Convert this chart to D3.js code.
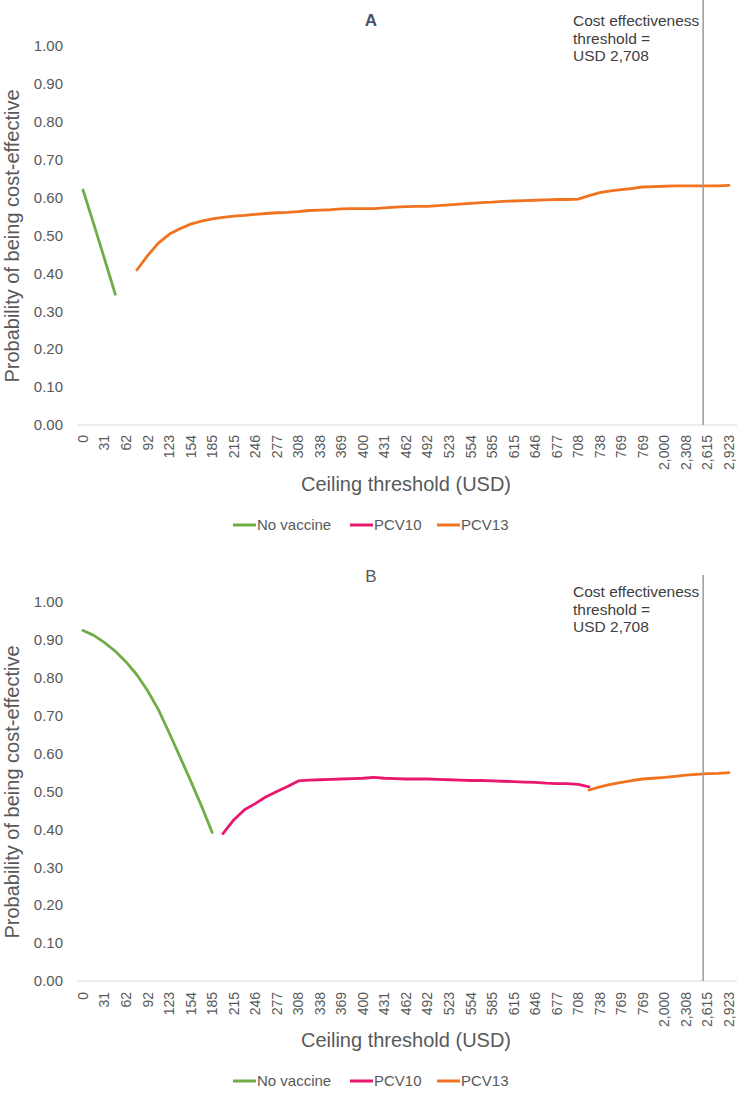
<!DOCTYPE html>
<html><head><meta charset="utf-8">
<script src="https://cdn.jsdelivr.net/npm/d3@7"></script>
<style>
body{margin:0;background:#fff}
svg{display:block}
text{font-family:"Liberation Sans",Arial,sans-serif}
</style>
</head><body>
<svg id="chart" width="742" height="1096"></svg>
<script>
// ---------- DATA ----------
// 61 categories (ceiling threshold steps); every second one is labelled
const categoryCount = 61;
const xTickLabels = ["0","31","62","92","123","154","185","215","246","277","308","338","369","400","431","462","492","523","554","585","615","646","677","708","738","769","769","2,000","2,308","2,615","2,923"];
const yTickValues = [0,0.1,0.2,0.3,0.4,0.5,0.6,0.7,0.8,0.9,1.0];
const seriesNames = ["No vaccine","PCV10","PCV13"];
const seriesColors = ["#70ad47","#e8176f","#f0741f"];
const thresholdCategory = 57.6;   // USD 2,708 position on the category axis
const thresholdText = ["Cost effectiveness","threshold =","USD 2,708"];

// Panel A (start = first category index of each series)
const noVaccineA_start = 0;
const noVaccineA = [0.620,0.530,0.438,0.345];
const pcv10A_start = 4;
const pcv10A = [];
const pcv13A_start = 5;
const pcv13A = [0.409,0.447,0.480,0.503,0.518,0.530,0.538,0.544,0.548,0.551,0.553,0.556,0.558,0.560,0.561,0.563,0.566,0.567,0.568,0.570,0.571,0.571,0.571,0.573,0.575,
  0.576,0.577,0.577,0.579,0.581,0.583,0.585,0.587,0.588,0.590,0.591,0.592,0.593,0.594,0.595,0.595,0.596,0.605,0.613,0.618,0.621,0.624,0.628,0.629,0.630,0.631,0.631,0.631,0.631,0.631,0.632];

// Panel B
const noVaccineB_start = 0;
const noVaccineB = [0.925,0.912,0.893,0.870,0.842,0.808,0.766,0.716,0.655,0.592,0.528,0.462,0.392];
const pcv10B_start = 13;
const pcv10B = [0.389,0.425,0.452,0.468,0.486,0.500,0.513,0.528,0.530,0.531,0.532,0.533,0.534,0.535,0.537,0.535,0.534,0.533,0.533,0.533,0.532,0.531,0.530,0.529,0.529,0.528,0.527,0.526,0.525,0.524,0.522,0.521,0.521,0.519,0.512];
const pcv13B_start = 47;
const pcv13B = [0.504,0.512,0.519,0.524,0.529,0.533,0.535,0.537,0.540,0.543,0.545,0.547,0.548,0.550];

// ---------- DRAW ----------
const svg = d3.select("#chart");
const grey = "#595959";
const x = d3.scaleLinear().domain([0, categoryCount - 1]).range([83, 729]);

const panels = [
  {title:"A", bold:true, titleColor:"#44546a", titleY:26, top:46, bottom:425, labelTop:435, axisTitleY:491, legendY:525, lineTop:0, annoY:26, yTitleCenter:236,
   series:[[noVaccineA_start,noVaccineA],[pcv10A_start,pcv10A],[pcv13A_start,pcv13A]]},
  {title:"B", bold:false, titleColor:grey, titleY:582, top:602, bottom:981, labelTop:992, axisTitleY:1047, legendY:1081, lineTop:575, annoY:597, yTitleCenter:792,
   series:[[noVaccineB_start,noVaccineB],[pcv10B_start,pcv10B],[pcv13B_start,pcv13B]]}
];

panels.forEach(p => {
  const g = svg.append("g");
  const y = d3.scaleLinear().domain([0,1]).range([p.bottom, p.top]);

  // title
  g.append("text").attr("x", 371).attr("y", p.titleY).attr("text-anchor","middle")
    .attr("font-size", 17).attr("font-weight", p.bold ? "bold" : "normal").attr("fill", p.titleColor).text(p.title);

  // baseline
  g.append("line").attr("x1", 77).attr("x2", 737).attr("y1", y(0)).attr("y2", y(0))
    .attr("stroke", "#d9d9d9").attr("stroke-width", 1);

  // y tick labels
  g.selectAll(".yt").data(yTickValues).enter().append("text")
    .attr("x", 63).attr("y", d => y(d)).attr("dy","0.35em").attr("text-anchor","end")
    .attr("font-size", 15).attr("fill", grey).text(d => d3.format(".2f")(d));

  // y title
  g.append("text").attr("transform", `translate(19,${p.yTitleCenter}) rotate(-90)`)
    .attr("text-anchor","middle").attr("font-size", 20).attr("fill", grey)
    .text("Probability of being cost-effective");

  // x tick labels (every second category)
  g.selectAll(".xt").data(xTickLabels).enter().append("text")
    .attr("transform", (d,i) => `translate(${x(i*2)},${p.labelTop}) rotate(-90)`)
    .attr("text-anchor","end").attr("dy","0.35em")
    .attr("font-size", 14).attr("fill", grey).text(d => d);

  // x title
  g.append("text").attr("x", 406).attr("y", p.axisTitleY).attr("text-anchor","middle")
    .attr("font-size", 20).attr("fill", grey).text("Ceiling threshold (USD)");

  // series lines
  const line = d3.line().x(d => x(d[0])).y(d => y(d[1]));
  p.series.forEach(([start, vals], si) => {
    const pts = vals.map((v,i) => [start + i, v]);
    if (pts.length < 2) return;
    g.append("path").attr("d", line(pts)).attr("fill","none")
      .attr("stroke", seriesColors[si]).attr("stroke-width", 2.8)
      .attr("stroke-linejoin","round").attr("stroke-linecap","round");
  });

  // threshold line
  g.append("line").attr("x1", x(thresholdCategory)).attr("x2", x(thresholdCategory))
    .attr("y1", p.lineTop).attr("y2", y(0)).attr("stroke","#9a9a9a").attr("stroke-width",1.5);

  // annotation
  thresholdText.forEach((t,i) => {
    g.append("text").attr("x", 573).attr("y", p.annoY + i*17.5)
      .attr("font-size", 15.5).attr("fill", "#404040").text(t);
  });

  // legend
  const legX = [233, 350, 437];
  seriesNames.forEach((n,i) => {
    g.append("line").attr("x1", legX[i]).attr("x2", legX[i]+23)
      .attr("y1", p.legendY).attr("y2", p.legendY)
      .attr("stroke", seriesColors[i]).attr("stroke-width", 3);
    g.append("text").attr("x", legX[i]+24).attr("y", p.legendY).attr("dy","0.35em")
      .attr("font-size", 15).attr("fill", grey).text(n);
  });
});
</script>
</body></html>
